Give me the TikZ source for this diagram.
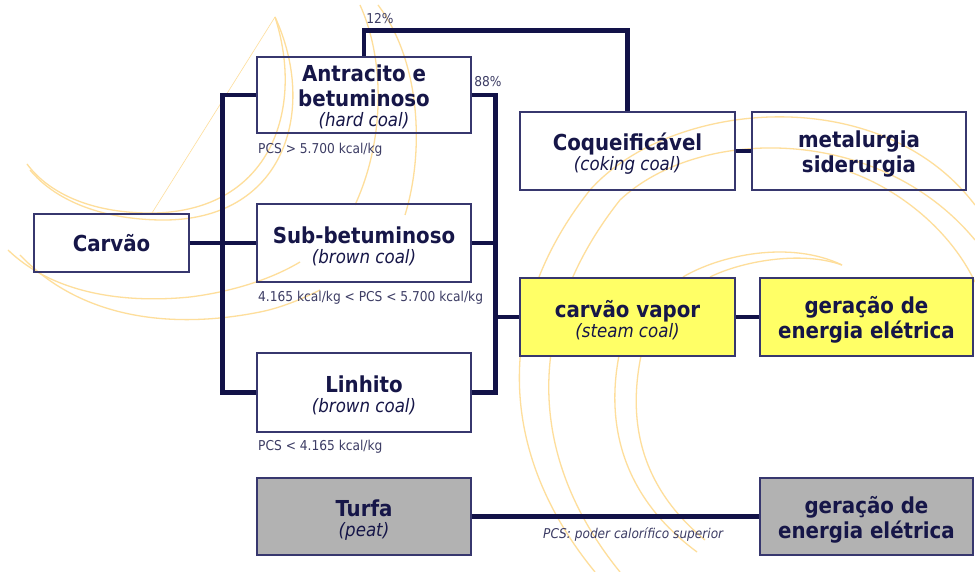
\documentclass[tikz,border=0pt]{standalone}
\usepackage{fontspec}
\setmainfont{DejaVu Sans Condensed}
\definecolor{navy}{RGB}{18,18,72}
\definecolor{boxline}{RGB}{55,55,110}
\definecolor{txt}{RGB}{22,22,72}
\definecolor{smalltxt}{RGB}{60,60,100}
\definecolor{swirl}{RGB}{254,222,155}
\definecolor{yel}{RGB}{255,255,102}
\definecolor{gry}{RGB}{178,178,178}
\newcommand{\subline}[1]{{\mdseries\itshape\fontsize{18.5}{20}\selectfont #1}}
\newcommand{\upstrut}[1]{\rule{0pt}{#1}}
\begin{document}
\begin{tikzpicture}[x=1pt,y=-1pt,
  box/.style={draw=boxline, line width=1.2pt, minimum width=214pt, minimum height=78pt, inner sep=0pt, align=center, text=txt, font=\bfseries\fontsize{22}{25}\selectfont},
  conn/.style={draw=navy, line width=4.5pt},
  lbl/.style={text=smalltxt, font=\fontsize{13.6}{15}\selectfont, inner sep=0pt},
  sw/.style={draw=swirl, line width=1.3pt}
]
\fill[white] (0,0) rectangle (975,572);
\useasboundingbox (0,0) rectangle (975,572);

% decorative swirls
\draw[sw] (275,17) .. controls (305,110) and (270,210) .. (155,213) .. controls (95,214) and (50,195) .. (27,164);
\draw[sw] (275,17) .. controls (318,110) and (285,222) .. (160,220) .. controls (100,219) and (55,200) .. (30,170);
\draw[sw, line width=0.6pt] (275,17) -- (152,213);
\draw[sw] (8,250) .. controls (60,300) and (140,302) .. (190,297) .. controls (230,292) and (270,280) .. (300,262);
\draw[sw] (20,255) .. controls (80,318) and (170,330) .. (260,312) .. controls (280,308) and (300,300) .. (320,290);
\draw[sw] (360,5) .. controls (385,60) and (385,140) .. (355,205);
\draw[sw] (378,5) .. controls (420,60) and (425,150) .. (405,215);
\draw[sw] (595,572) .. controls (495,450) and (495,310) .. (590,190) .. controls (670,100) and (880,80) .. (975,205);
\draw[sw] (620,572) .. controls (525,455) and (525,320) .. (620,200) .. controls (700,125) and (880,125) .. (975,240);
\draw[sw] (697,552) .. controls (600,480) and (600,380) .. (640,290);
\draw[sw] (705,540) .. controls (620,470) and (625,380) .. (660,295);
\draw[sw] (683,277) .. controls (720,255) and (790,240) .. (842,265);
\draw[sw] (710,277) .. controls (740,262) and (800,250) .. (842,265);
\draw[sw] (850,172) .. controls (900,190) and (950,230) .. (975,282);

% boxes
\node[box, minimum width=155pt, minimum height=58pt] (carvao) at (111.5,243) {Carvão};
\node[box, minimum height=76pt] (antr) at (364,95) {\upstrut{20pt}Antracito e\\betuminoso\\[-5pt]\subline{(hard coal)}};
\node[box] (sub) at (364,243) {\upstrut{23pt}Sub-betuminoso\\[-5pt]\subline{(brown coal)}};
\node[box, minimum height=79pt] (lin) at (364,392.5) {\upstrut{23pt}Linhito\\[-5pt]\subline{(brown coal)}};
\node[box, fill=gry, minimum height=77pt] (turfa) at (364,516.5) {\upstrut{23pt}Turfa\\[-5pt]\subline{(peat)}};
\node[box, minimum width=215pt] (coq) at (627.5,151) {\upstrut{23pt}Coqueificável\\[-5pt]\subline{(coking coal)}};
\node[box] (met) at (859,151) {\upstrut{23pt}metalurgia\\siderurgia};
\node[box, fill=yel, minimum width=215pt] (vapor) at (627.5,317) {\upstrut{23pt}carvão vapor\\[-5pt]\subline{(steam coal)}};
\node[box, fill=yel, minimum width=213pt] (gery) at (866.5,317) {\upstrut{23pt}geração de\\energia elétrica};
\node[box, fill=gry, minimum width=213pt, minimum height=77pt] (gerg) at (866.5,516.5) {\upstrut{23pt}geração de\\energia elétrica};

% connectors
\coordinate (rj) at (495,317);
\draw[conn] (carvao.east) -- (sub.west);
\draw[conn] (antr.west) -- ++(-34,0) |- (lin.west);
\draw[conn] (antr.east) -- ++(24,0) |- (lin.east);
\draw[conn] (sub.east) -- ++(24,0);
\draw[conn] (rj) -- (vapor.west);
\draw[conn] (antr.north) -- ++(0,-26) -| (coq.north);
\draw[conn] (coq.east) -- (met.west);
\draw[conn] (vapor.east) -- (gery.west);
\draw[conn] (turfa.east) -- (gerg.west);

% labels
\node[lbl] (p12) at (380,19) {12\%};
\node[lbl] (p88) at (488,82) {88\%};
\node[lbl, anchor=west] (pcs1) at (258,150) {PCS > 5.700 kcal/kg};
\node[lbl, anchor=west] (pcs2) at (258,298) {4.165 kcal/kg < PCS < 5.700 kcal/kg};
\node[lbl, anchor=west] (pcs3) at (258,447) {PCS < 4.165 kcal/kg};
\node[lbl, font=\itshape\fontsize{13.5}{15}\selectfont, anchor=west] (pcsdef) at (543,535) {PCS: poder calorífico superior};
\end{tikzpicture}
\end{document}
